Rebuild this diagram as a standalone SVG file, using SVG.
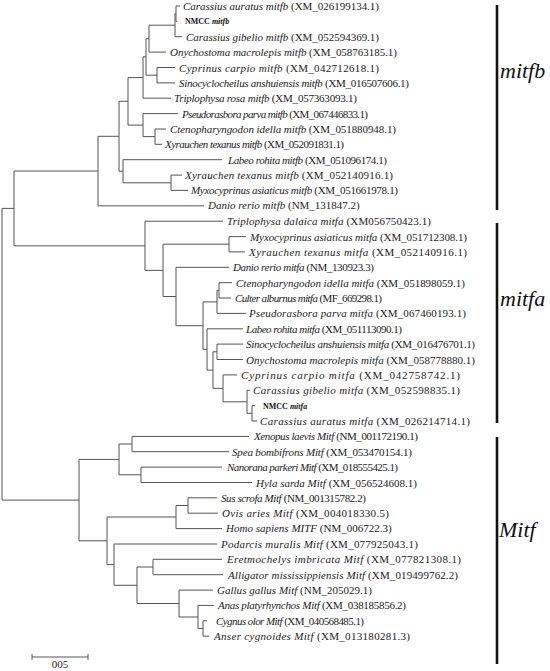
<svg xmlns="http://www.w3.org/2000/svg" width="550" height="671" viewBox="0 0 550 671">
<style>
.br{fill:none;stroke:#555;stroke-width:1}
.lb{font-family:"Liberation Serif","Times New Roman",serif;font-size:11px;fill:#222}
.it{font-style:italic}
.nm{font-family:"Liberation Serif","Times New Roman",serif;font-size:8px;font-weight:bold;fill:#111}
.bar{stroke:#111;stroke-width:2.6}
.cl{font-family:"Liberation Serif","Times New Roman",serif;font-size:22px;font-style:italic;fill:#111}
</style>
<rect width="550" height="671" fill="#fff"/>
<g id="connectors" class="br">
<path d="M180 6H176V21.4H177"/>
<path d="M176 13.7H175V36.7H182"/>
<path d="M175 25.2H149V52.1H166"/>
<path d="M175 67.5H157V82.9H175"/>
<path d="M149 38.7H146V75.2H157"/>
<path d="M146 56.9H143V98.2H171"/>
<path d="M166 129H155V144.3H162"/>
<path d="M178 113.6H143V136.6H155"/>
<path d="M143 77.6H128V125.1H143"/>
<path d="M182 175.1H171V190.4H188"/>
<path d="M222 159.7H123V182.8H171"/>
<path d="M128 101.3H119V171.2H123"/>
<path d="M119 136.3H98V205.8H204"/>
<path d="M246 236.6H229V251.9H245"/>
<path d="M232 282.7H219V298H231"/>
<path d="M219 290.3H217V313.4H246"/>
<path d="M243 344.1H217V359.5H243"/>
<path d="M255 405.6H252V421H257"/>
<path d="M250 390.3H247V413.3H252"/>
<path d="M237 374.9H223V401.8H247"/>
<path d="M217 351.8H213V388.3H223"/>
<path d="M243 328.8H207V370.1H213"/>
<path d="M217 301.9H203V349.4H207"/>
<path d="M229 267.3H176V325.7H203"/>
<path d="M229 244.2H163V296.5H176"/>
<path d="M223 221.2H145V270.4H163"/>
<path d="M98 171H14V245.8H145"/>
<path d="M249 436.4H132V451.7H229"/>
<path d="M222 467.1H141V482.5H252"/>
<path d="M132 444H119V474.8H141"/>
<path d="M217 497.8H188V513.2H218"/>
<path d="M188 505.5H176V528.6H222"/>
<path d="M222 559.3H153V574.7H223"/>
<path d="M207 620.8H203V636.2H209"/>
<path d="M214 605.4H198V628.5H203"/>
<path d="M213 590.1H179V617H198"/>
<path d="M153 567H137V603.5H179"/>
<path d="M217 544H114V585.3H137"/>
<path d="M176 517H107V564.6H114"/>
<path d="M119 459.4H79V540.8H107"/>
<path d="M14 208.4H2V500.1H79"/>
</g>
<g id="n0"><text class="lb" x="183" y="10" textLength="196" lengthAdjust="spacing"><tspan class="it">Carassius auratus mitfb</tspan> (XM_026199134.1)</text></g>
<g id="n1"><text class="nm" x="185" y="24.4">NMCC <tspan font-style="italic">mitfb</tspan></text></g>
<g id="n2"><text class="lb" x="186" y="40.7" textLength="193" lengthAdjust="spacing"><tspan class="it">Carassius gibelio mitfb</tspan> (XM_052594369.1)</text></g>
<g id="n3"><text class="lb" x="170" y="56.1" textLength="227" lengthAdjust="spacing"><tspan class="it">Onychostoma macrolepis mitfb</tspan> (XM_058763185.1)</text></g>
<g id="n4"><text class="lb" x="179" y="71.5" textLength="200" lengthAdjust="spacing"><tspan class="it">Cyprinus carpio mitfb</tspan> (XM_042712618.1)</text></g>
<g id="n5"><text class="lb" x="179" y="86.9" font-size="10.4" textLength="230" lengthAdjust="spacing"><tspan class="it">Sinocyclocheilus anshuiensis mitfb</tspan> (XM_016507606.1)</text></g>
<g id="n6"><text class="lb" x="174" y="102.2" font-size="10.5" textLength="183" lengthAdjust="spacing"><tspan class="it">Triplophysa rosa mitfb</tspan> (XM_057363093.1)</text></g>
<g id="n7"><text class="lb" x="182" y="117.6" font-size="9.7" textLength="186" lengthAdjust="spacing"><tspan class="it">Pseudorasbora parva mitfb</tspan> (XM_067446833.1)</text></g>
<g id="n8"><text class="lb" x="170" y="133" textLength="226" lengthAdjust="spacing"><tspan class="it">Ctenopharyngodon idella mitfb</tspan> (XM_051880948.1)</text></g>
<g id="n9"><text class="lb" x="165" y="148.3" font-size="9.8" textLength="179" lengthAdjust="spacing"><tspan class="it">Xyrauchen texanus mitfb</tspan> (XM_052091831.1)</text></g>
<g id="n10"><text class="lb" x="228" y="163.7" font-size="10.1" textLength="159" lengthAdjust="spacing"><tspan class="it">Labeo rohita mitfb</tspan> (XM_051096174.1)</text></g>
<g id="n11"><text class="lb" x="185" y="179.1" textLength="208" lengthAdjust="spacing"><tspan class="it">Xyrauchen texanus mitfb</tspan> (XM_052140916.1)</text></g>
<g id="n12"><text class="lb" x="191" y="194.4" font-size="10.3" textLength="207" lengthAdjust="spacing"><tspan class="it">Myxocyprinus asiaticus mitfb</tspan> (XM_051661978.1)</text></g>
<g id="n13"><text class="lb" x="208" y="209.4" font-size="8.2"><tspan class="it">Danio rerio mitfb</tspan> (NM_131847.2)</text></g>
<g id="n14"><text class="lb" x="227" y="225.2" textLength="204" lengthAdjust="spacing"><tspan class="it">Triplophysa dalaica mitfa</tspan> (XM056750423.1)</text></g>
<g id="n15"><text class="lb" x="250" y="240.6" font-size="10.8" textLength="217" lengthAdjust="spacing"><tspan class="it">Myxocyprinus asiaticus mitfa</tspan> (XM_051712308.1)</text></g>
<g id="n16"><text class="lb" x="249" y="255.9" textLength="218" lengthAdjust="spacing"><tspan class="it">Xyrauchen texanus mitfa</tspan> (XM_052140916.1)</text></g>
<g id="n17"><text class="lb" x="233" y="271.3" font-size="10.2" textLength="141" lengthAdjust="spacing"><tspan class="it">Danio rerio mitfa</tspan> (NM_130923.3)</text></g>
<g id="n18"><text class="lb" x="236" y="286.7" textLength="229" lengthAdjust="spacing"><tspan class="it">Ctenopharyngodon idella mitfa</tspan> (XM_051898059.1)</text></g>
<g id="n19"><text class="lb" x="235" y="302" font-size="9.7" textLength="147" lengthAdjust="spacing"><tspan class="it">Culter alburnus mitfa</tspan> (MF_669298.1)</text></g>
<g id="n20"><text class="lb" x="249" y="317.4" textLength="217" lengthAdjust="spacing"><tspan class="it">Pseudorasbora parva mitfa</tspan> (XM_067460193.1)</text></g>
<g id="n21"><text class="lb" x="246" y="332.8" font-size="9.9" textLength="156" lengthAdjust="spacing"><tspan class="it">Labeo rohita mitfa</tspan> (XM_051113090.1)</text></g>
<g id="n22"><text class="lb" x="246" y="348.1" font-size="10.3" textLength="229" lengthAdjust="spacing"><tspan class="it">Sinocyclocheilus anshuiensis mitfa</tspan> (XM_016476701.1)</text></g>
<g id="n23"><text class="lb" x="246" y="363.5" textLength="229" lengthAdjust="spacing"><tspan class="it">Onychostoma macrolepis mitfa</tspan> (XM_058778880.1)</text></g>
<g id="n24"><text class="lb" x="241" y="378.9" textLength="219" lengthAdjust="spacing"><tspan class="it">Cyprinus carpio mitfa</tspan> (XM_042758742.1)</text></g>
<g id="n25"><text class="lb" x="253" y="394.3" textLength="207" lengthAdjust="spacing"><tspan class="it">Carassius gibelio mitfa</tspan> (XM_052598835.1)</text></g>
<g id="n26"><text class="nm" x="263" y="408.6">NMCC <tspan font-style="italic">mitfa</tspan></text></g>
<g id="n27"><text class="lb" x="260" y="425" textLength="210" lengthAdjust="spacing"><tspan class="it">Carassius auratus mitfa</tspan> (XM_026214714.1)</text></g>
<g id="n28"><text class="lb" x="254" y="440.4" font-size="10.1" textLength="164" lengthAdjust="spacing"><tspan class="it">Xenopus laevis Mitf</tspan> (NM_001172190.1)</text></g>
<g id="n29"><text class="lb" x="232" y="455.7" font-size="10.6" textLength="180" lengthAdjust="spacing"><tspan class="it">Spea bombifrons Mitf</tspan> (XM_053470154.1)</text></g>
<g id="n30"><text class="lb" x="227" y="471.1" font-size="9.8" textLength="171" lengthAdjust="spacing"><tspan class="it">Nanorana parkeri Mitf</tspan> (XM_018555425.1)</text></g>
<g id="n31"><text class="lb" x="256" y="486.5" textLength="161" lengthAdjust="spacing"><tspan class="it">Hyla sarda Mitf</tspan> (XM_056524608.1)</text></g>
<g id="n32"><text class="lb" x="221" y="501.8" font-size="10.1" textLength="145" lengthAdjust="spacing"><tspan class="it">Sus scrofa Mitf</tspan> (NM_001315782.2)</text></g>
<g id="n33"><text class="lb" x="222" y="517.2" textLength="167" lengthAdjust="spacing"><tspan class="it">Ovis aries Mitf</tspan> (XM_004018330.5)</text></g>
<g id="n34"><text class="lb" x="226" y="532.4" font-size="8.3"><tspan class="it">Homo sapiens MITF</tspan> (NM_006722.3)</text></g>
<g id="n35"><text class="lb" x="221" y="548" textLength="197" lengthAdjust="spacing"><tspan class="it">Podarcis muralis Mitf</tspan> (XM_077925043.1)</text></g>
<g id="n36"><text class="lb" x="227" y="563.3" textLength="234" lengthAdjust="spacing"><tspan class="it">Eretmochelys imbricata Mitf</tspan> (XM_077821308.1)</text></g>
<g id="n37"><text class="lb" x="228" y="578.7" textLength="230" lengthAdjust="spacing"><tspan class="it">Alligator mississippiensis Mitf</tspan> (XM_019499762.2)</text></g>
<g id="n38"><text class="lb" x="217" y="594.1" textLength="155" lengthAdjust="spacing"><tspan class="it">Gallus gallus Mitf</tspan> (NM_205029.1)</text></g>
<g id="n39"><text class="lb" x="218" y="609.4" font-size="10.4" textLength="188" lengthAdjust="spacing"><tspan class="it">Anas platyrhynchos Mitf</tspan> (XM_038185856.2)</text></g>
<g id="n40"><text class="lb" x="216" y="624.6" font-size="9.8" textLength="148" lengthAdjust="spacing"><tspan class="it">Cygnus olor Mitf</tspan> (XM_040568485.1)</text></g>
<g id="n41"><text class="lb" x="214" y="640.2" textLength="196" lengthAdjust="spacing"><tspan class="it">Anser cygnoides Mitf</tspan> (XM_013180281.3)</text></g>
<g id="clade-mitfb"><line class="bar" x1="497" y1="5" x2="497" y2="210"/><text class="cl" x="500" y="78">mitfb</text></g>
<g id="clade-mitfa"><line class="bar" x1="497" y1="223" x2="497" y2="423"/><text class="cl" x="500" y="306">mitfa</text></g>
<g id="clade-Mitf"><line class="bar" x1="497" y1="437" x2="497" y2="664"/><text class="cl" x="499" y="537">Mitf</text></g>
<g id="scale"><path class="br" d="M32 657H88M32 654V660M88 654V660"/><text class="lb" x="60" y="668" text-anchor="middle">005</text></g>
</svg>
